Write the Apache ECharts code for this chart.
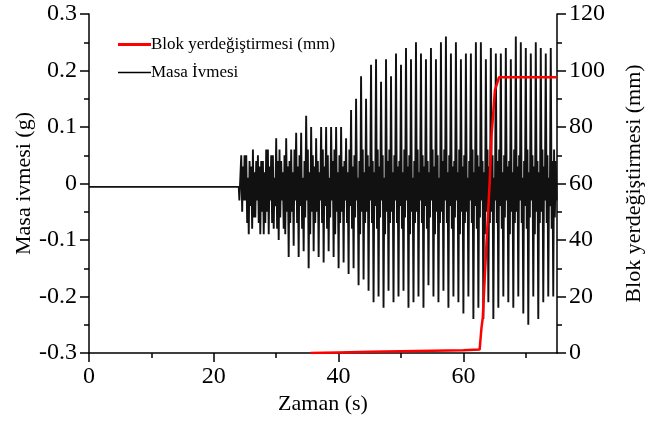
<!DOCTYPE html>
<html><head><meta charset="utf-8">
<script src="https://cdn.jsdelivr.net/npm/echarts@6/dist/echarts.min.js"></script>
<style>html,body{margin:0;padding:0;background:#fff}#c{width:668px;height:423px}</style>
</head><body><div id="c"></div>
<script>
// ---- data ----
const xTicks = [0, 20, 40, 60];
const xMinorTicks = [10, 30, 50, 70];
const baseLevel = -0.006;          // flat acceleration before shaking
const baseEnd = 24.0;
const kickValue = -0.03;           // small step at start of shaking
const cycleStart = 24.4;           // time of first peak (s)
const cyclePeriod = 0.8;           // spacing of peaks (s)
const accHigh = [0.05,0.05,0.03,0.04,0.04,0.06,0.05,0.08,0.04,0.08,0.06,0.09,0.09,0.12,0.10,0.08,
                 0.10,0.10,0.10,0.10,0.10,0.08,0.13,0.15,0.19,0.15,0.21,0.22,0.18,0.22,0.19,0.23,
                 0.21,0.24,0.22,0.25,0.23,0.22,0.24,0.22,0.25,0.26,0.23,0.25,0.22,0.23,0.23,0.25,
                 0.25,0.22,0.24,0.23,0.23,0.24,0.22,0.26,0.25,0.24,0.23,0.25,0.24,0.23,0.24,0.04];
const accLow  = [-0.03,-0.09,-0.06,-0.07,-0.09,-0.09,-0.08,-0.10,-0.08,-0.13,-0.11,-0.13,-0.12,-0.15,-0.12,-0.13,
                 -0.14,-0.12,-0.13,-0.15,-0.14,-0.16,-0.15,-0.18,-0.17,-0.19,-0.21,-0.20,-0.22,-0.19,-0.21,-0.20,
                 -0.19,-0.22,-0.21,-0.20,-0.22,-0.18,-0.20,-0.21,-0.19,-0.22,-0.20,-0.21,-0.23,-0.20,-0.24,-0.22,
                 -0.24,-0.21,-0.24,-0.22,-0.20,-0.21,-0.22,-0.20,-0.23,-0.25,-0.20,-0.24,-0.21,-0.20,-0.20,-0.20];
// dense inner band: small up/down excursions seen between the big peaks
const rippleUp   = [0.03, 0.05, 0.01, 0.04, 0.06, 0.02, 0.05, 0.03, 0.04, 0.02, 0.06];
const rippleDown = [-0.05, -0.03, -0.07, -0.04, -0.08, -0.06, -0.03, -0.09, -0.05, -0.07];
const dispTime = [35.5, 40, 45, 50, 55, 60, 62.6, 62.9, 63.1, 63.7, 64.2, 64.5, 65.05, 65.7, 75];
const dispMM   = [0, 0.2, 0.4, 0.6, 0.8, 1.0, 1.2, 9, 12.4, 38.9, 60, 76.6, 93, 97.6, 97.6];

// ---- build series ----
const accData = [[0, baseLevel], [baseEnd, baseLevel], [baseEnd + 0.1, kickValue]];
let ku = 0, kd = 0;
for (let i = 0; i < accHigh.length; i++) {
  const t = cycleStart + cyclePeriod * i;
  const pts = [
    [t, accHigh[i]],
    [t + 0.15, rippleDown[kd++ % rippleDown.length]],
    [t + 0.27, rippleUp[ku++ % rippleUp.length]],
    [t + 0.4, accLow[i]],
    [t + 0.53, rippleUp[ku++ % rippleUp.length]],
    [t + 0.65, rippleDown[kd++ % rippleDown.length]]
  ];
  pts.forEach(p => { if (p[0] <= 75) accData.push(p); });
}
const dispData = dispTime.map((t, i) => [t, dispMM[i]]);

const FONT = 'Liberation Serif';
const legendText = {fontFamily: FONT, fontSize: 17, color: '#000', padding: [0, 0, 0, -5]};
const tickFont = {fontFamily: FONT, fontSize: 24, color: '#000', margin: 12};
const chart = echarts.init(document.getElementById('c'), null, {renderer: 'canvas'});
chart.setOption({
  animation: false,
  textStyle: {fontFamily: FONT, color: '#000'},
  grid: {left: 89, right: 111, top: 14, bottom: 70, containLabel: false, outerBoundsMode: 'none'},
  legend: [{
    left: 113, top: 31, itemWidth: 33, itemHeight: 3, icon: 'rect',
    textStyle: legendText, data: ['Blok yerdeğiştirmesi (mm)']
  }, {
    left: 113, top: 59, itemWidth: 33, itemHeight: 1.5, icon: 'rect',
    textStyle: legendText, data: ['Masa İvmesi']
  }],
  xAxis: [{
    type: 'value', min: 0, max: 75, interval: 20,
    name: 'Zaman (s)', nameLocation: 'middle', nameGap: 40, nameMoveOverlap: false,
    nameTextStyle: {fontFamily: FONT, fontSize: 22, color: '#000'},
    axisLine: {onZero: false, lineStyle: {color: '#000', width: 1.5}},
    axisTick: {length: 9, lineStyle: {color: '#000', width: 1.5}, customValues: xTicks},
    axisLabel: Object.assign({customValues: xTicks}, tickFont),
    splitLine: {show: false}
  }, {
    type: 'value', min: 0, max: 75, position: 'bottom', gridIndex: 0,
    axisLine: {show: false, onZero: false},
    axisTick: {length: 5, lineStyle: {color: '#000', width: 1.5}, customValues: xMinorTicks},
    axisLabel: {show: false}, splitLine: {show: false}
  }],
  yAxis: [{
    type: 'value', min: -0.3, max: 0.3, interval: 0.1, position: 'left',
    name: 'Masa ivmesi (g)', nameLocation: 'middle', nameGap: 54, nameRotate: 90, nameMoveOverlap: false,
    nameTextStyle: {fontFamily: FONT, fontSize: 22, color: '#000'},
    axisLine: {show: true, onZero: false, lineStyle: {color: '#000', width: 1.5}},
    axisTick: {show: true, length: 9, lineStyle: {color: '#000', width: 1.5}},
    minorTick: {show: true, splitNumber: 2, length: 5, lineStyle: {color: '#000', width: 1.5}},
    axisLabel: Object.assign({formatter: v => Math.abs(v) < 1e-9 ? '0' : v.toFixed(1)}, tickFont),
    splitLine: {show: false}
  }, {
    type: 'value', min: 0, max: 120, interval: 20, position: 'right',
    name: 'Blok yerdeğiştirmesi (mm)', nameLocation: 'middle', nameGap: 66, nameRotate: 90, nameMoveOverlap: false,
    nameTextStyle: {fontFamily: FONT, fontSize: 22, color: '#000'},
    axisLine: {show: true, onZero: false, lineStyle: {color: '#000', width: 1.5}},
    axisTick: {show: true, length: 9, lineStyle: {color: '#000', width: 1.5}},
    minorTick: {show: true, splitNumber: 2, length: 5, lineStyle: {color: '#000', width: 1.5}},
    axisLabel: Object.assign({}, tickFont),
    splitLine: {show: false}
  }],
  series: [{
    name: 'Masa İvmesi', type: 'line', xAxisIndex: 0, yAxisIndex: 0,
    symbol: 'none', data: accData,
    lineStyle: {color: '#111', width: 1.9}, itemStyle: {color: '#000'}
  }, {
    name: 'Blok yerdeğiştirmesi (mm)', type: 'line', xAxisIndex: 0, yAxisIndex: 1,
    symbol: 'none', data: dispData,
    lineStyle: {color: '#ff0000', width: 2.5}, itemStyle: {color: '#ff0000'}
  }]
});
</script></body></html>
